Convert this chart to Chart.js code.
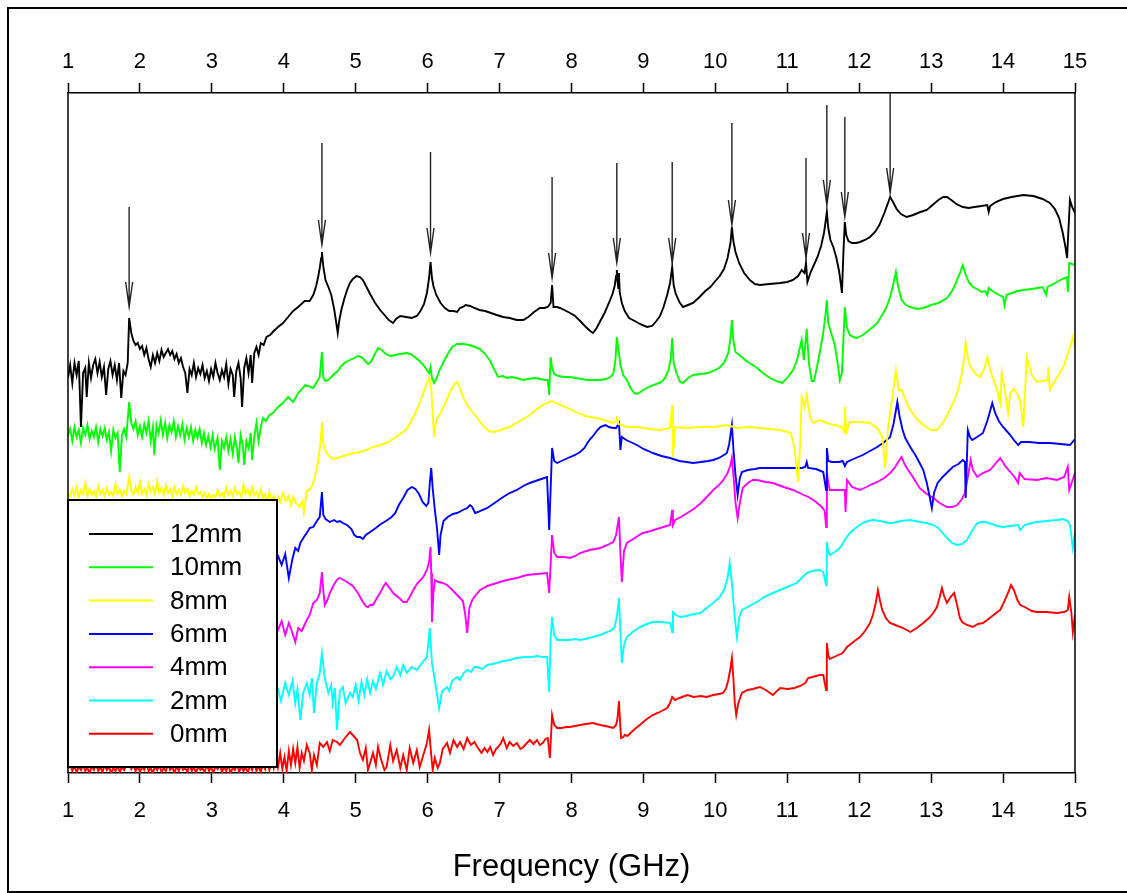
<!DOCTYPE html>
<html>
<head>
<meta charset="utf-8">
<script src="https://cdn.jsdelivr.net/npm/chart.js@4.4.0/dist/chart.umd.min.js"></script>
<style>
  html, body { margin: 0; padding: 0; background: #fff; }
</style>
</head>
<body>
<canvas id="specChart" width="1127" height="893"></canvas>
<script>
// --- данные: частота (GHz) и сигнал (отн. ед., кривые смещены по вертикали) ---
const freqTicks = [1, 2, 3, 4, 5, 6, 7, 8, 9, 10, 11, 12, 13, 14, 15];
const seriesLabels = ['12mm', '10mm', '8mm', '6mm', '4mm', '2mm', '0mm'];
const seriesColors = ['#000000', '#00ff00', '#ffff00', '#0000ff', '#ff00ff', '#00ffff', '#ff0000'];

const s12 = [[1.00,395],[1.03,408],[1.06,390],[1.09,410],[1.12,398],[1.15,412],[1.18,346],[1.21,400],[1.24,405],[1.26,376],[1.29,410],[1.32,395],[1.35,408],[1.38,414],[1.41,400],[1.44,411],[1.47,396],[1.50,406],[1.53,378],[1.56,404],[1.59,412],[1.62,398],[1.65,408],[1.68,393],[1.71,410],[1.74,375],[1.77,402],[1.80,398],[1.83,410],[1.85,455],[1.88,440],[1.91,432],[1.94,428],[1.97,430],[2.00,424],[2.03,427],[2.06,418],[2.09,425],[2.12,414],[2.15,406],[2.18,418],[2.21,410],[2.24,420],[2.27,412],[2.30,423],[2.33,416],[2.36,420],[2.39,424],[2.42,418],[2.45,422],[2.48,414],[2.51,419],[2.54,410],[2.57,415],[2.60,406],[2.63,400],[2.66,380],[2.69,404],[2.72,398],[2.75,410],[2.78,396],[2.81,405],[2.84,399],[2.87,408],[2.90,395],[2.93,402],[2.96,392],[2.99,404],[3.02,396],[3.05,410],[3.08,400],[3.11,393],[3.14,403],[3.17,396],[3.20,409],[3.23,389],[3.26,404],[3.29,398],[3.31,376],[3.34,402],[3.37,410],[3.40,395],[3.42,366],[3.45,405],[3.48,415],[3.51,400],[3.54,418],[3.56,390],[3.59,420],[3.62,426],[3.65,418],[3.68,430],[3.72,428],[3.76,436],[3.81,438],[3.86,442],[3.92,446],[3.99,450],[4.06,456],[4.13,462],[4.20,466],[4.29,472],[4.36,472],[4.41,478],[4.45,487],[4.48,497],[4.50,505],[4.52,515],[4.53,521],[4.55,506],[4.58,493],[4.62,486],[4.66,478],[4.70,464],[4.73,450],[4.75,440],[4.77,452],[4.80,463],[4.84,474],[4.88,483],[4.92,490],[4.96,494],[5.01,497],[5.06,496],[5.10,493],[5.15,486],[5.20,479],[5.27,470],[5.34,463],[5.40,458],[5.46,453],[5.52,450],[5.56,454],[5.62,457],[5.70,456],[5.78,455],[5.85,457],[5.90,462],[5.95,469],[5.99,480],[6.02,495],[6.04,511],[6.06,495],[6.08,487],[6.12,478],[6.18,470],[6.24,465],[6.30,462],[6.36,462],[6.41,461],[6.45,465],[6.49,466],[6.53,468],[6.59,467],[6.65,465],[6.72,463],[6.80,462],[6.88,460],[6.96,458],[7.05,456],[7.14,455],[7.24,453],[7.33,453],[7.40,456],[7.48,461],[7.56,465],[7.62,465],[7.67,466],[7.71,470],[7.73,488],[7.75,466],[7.80,466],[7.84,465],[7.90,463],[7.98,460],[8.05,457],[8.12,452],[8.20,446],[8.26,442],[8.30,440],[8.35,445],[8.40,452],[8.46,460],[8.52,470],[8.57,479],[8.60,487],[8.62,497],[8.63,503],[8.64,492],[8.65,485],[8.66,500],[8.67,481],[8.70,470],[8.74,462],[8.80,455],[8.88,452],[8.95,449],[9.05,446],[9.12,447],[9.18,452],[9.23,457],[9.28,466],[9.33,478],[9.37,490],[9.40,506],[9.42,488],[9.45,479],[9.50,471],[9.55,466],[9.62,468],[9.69,470],[9.78,476],[9.86,482],[9.93,486],[10.00,492],[10.06,497],[10.12,504],[10.17,515],[10.21,530],[10.23,546],[10.25,532],[10.28,521],[10.33,510],[10.40,500],[10.48,493],[10.55,489],[10.62,488],[10.75,489],[10.90,490],[11.00,491],[11.08,493],[11.15,497],[11.20,503],[11.24,500],[11.26,510],[11.28,491],[11.32,500],[11.37,508],[11.42,516],[11.47,527],[11.51,540],[11.53,550],[11.55,561],[11.57,545],[11.60,533],[11.64,526],[11.68,516],[11.72,502],[11.75,486],[11.76,480],[11.78,520],[11.80,551],[11.82,538],[11.85,532],[11.90,530],[11.96,530],[12.01,531],[12.08,533],[12.15,536],[12.22,541],[12.28,548],[12.35,560],[12.40,570],[12.43,576],[12.47,571],[12.52,564],[12.58,559],[12.66,556],[12.75,558],[12.85,561],[12.94,563],[13.02,568],[13.10,573],[13.17,576],[13.22,576],[13.28,573],[13.35,569],[13.44,566],[13.52,565],[13.60,566],[13.70,567],[13.78,568],[13.80,561],[13.82,567],[13.90,571],[14.00,574],[14.12,576],[14.28,578],[14.42,577],[14.55,574],[14.65,570],[14.72,564],[14.78,555],[14.83,540],[14.87,525],[14.89,515],[14.91,545],[14.93,573],[14.96,566],[15.00,560]];

const s10 = [[1.00,338],[1.03,344],[1.06,332],[1.09,346],[1.12,336],[1.15,343],[1.18,330],[1.21,345],[1.24,338],[1.27,348],[1.30,334],[1.33,342],[1.36,336],[1.39,346],[1.42,331],[1.45,344],[1.48,337],[1.51,345],[1.54,333],[1.57,341],[1.60,322],[1.63,343],[1.66,335],[1.69,340],[1.72,301],[1.75,338],[1.78,344],[1.81,336],[1.85,371],[1.88,350],[1.91,344],[1.94,352],[1.97,338],[2.00,347],[2.03,336],[2.06,349],[2.09,340],[2.12,352],[2.15,332],[2.18,346],[2.20,318],[2.23,348],[2.26,340],[2.29,353],[2.32,338],[2.35,350],[2.38,335],[2.41,348],[2.44,341],[2.47,352],[2.50,336],[2.53,347],[2.56,338],[2.59,349],[2.62,333],[2.65,345],[2.68,336],[2.71,346],[2.74,332],[2.77,343],[2.80,335],[2.83,344],[2.86,330],[2.89,340],[2.92,328],[2.95,337],[2.98,326],[3.01,338],[3.04,324],[3.08,335],[3.11,303],[3.14,332],[3.17,325],[3.20,336],[3.23,322],[3.26,334],[3.29,319],[3.32,336],[3.35,324],[3.37,310],[3.40,338],[3.43,328],[3.45,308],[3.48,332],[3.51,325],[3.54,340],[3.56,313],[3.59,336],[3.62,350],[3.65,332],[3.68,346],[3.71,355],[3.75,352],[3.80,358],[3.85,360],[3.92,366],[3.99,370],[4.06,376],[4.13,371],[4.20,380],[4.30,388],[4.41,385],[4.50,396],[4.53,421],[4.55,395],[4.58,392],[4.62,393],[4.66,396],[4.70,399],[4.75,402],[4.80,407],[4.86,411],[4.92,413],[4.98,415],[5.03,417],[5.08,416],[5.12,413],[5.17,409],[5.21,411],[5.26,418],[5.31,425],[5.36,423],[5.42,419],[5.48,417],[5.55,418],[5.62,419],[5.70,420],[5.76,419],[5.82,416],[5.89,412],[5.94,408],[5.99,403],[6.02,400],[6.04,406],[6.06,395],[6.09,390],[6.12,394],[6.16,402],[6.22,411],[6.28,419],[6.34,426],[6.41,429],[6.50,429],[6.58,428],[6.66,426],[6.73,424],[6.80,419],[6.87,412],[6.93,403],[6.98,396],[7.05,397],[7.10,395],[7.17,396],[7.24,395],[7.32,393],[7.40,394],[7.48,395],[7.56,394],[7.64,393],[7.67,393],[7.69,378],[7.71,416],[7.73,405],[7.76,399],[7.82,397],[7.90,396],[7.98,396],[8.06,395],[8.14,394],[8.22,393],[8.30,393],[8.40,393],[8.48,394],[8.54,396],[8.58,399],[8.61,412],[8.63,436],[8.65,425],[8.68,408],[8.72,398],[8.77,393],[8.82,385],[8.87,380],[8.91,379],[8.96,381],[9.02,384],[9.10,387],[9.18,389],[9.25,391],[9.30,395],[9.35,403],[9.38,415],[9.40,435],[9.42,410],[9.46,400],[9.51,391],[9.55,390],[9.62,395],[9.69,398],[9.80,399],[9.90,400],[9.97,402],[10.05,405],[10.12,410],[10.18,420],[10.21,435],[10.23,453],[10.25,432],[10.28,421],[10.35,417],[10.45,411],[10.52,408],[10.58,405],[10.66,400],[10.76,395],[10.85,392],[10.93,390],[11.00,395],[11.08,403],[11.14,414],[11.20,433],[11.23,413],[11.27,444],[11.30,410],[11.34,392],[11.37,392],[11.41,405],[11.45,420],[11.50,440],[11.53,458],[11.55,473],[11.57,450],[11.61,440],[11.66,428],[11.70,410],[11.73,393],[11.76,400],[11.80,466],[11.83,445],[11.87,438],[11.92,436],[11.97,435],[12.05,438],[12.12,442],[12.19,446],[12.25,450],[12.32,458],[12.38,466],[12.43,476],[12.47,488],[12.51,501],[12.54,487],[12.59,473],[12.65,468],[12.71,466],[12.80,464],[12.89,465],[13.00,468],[13.10,470],[13.22,475],[13.30,483],[13.36,493],[13.40,500],[13.44,508],[13.48,498],[13.53,490],[13.58,486],[13.64,484],[13.70,481],[13.75,482],[13.78,478],[13.80,485],[13.85,482],[13.92,479],[14.00,476],[14.02,468],[14.05,478],[14.12,480],[14.20,482],[14.28,483],[14.40,484],[14.55,486],[14.60,478],[14.62,486],[14.70,489],[14.75,491],[14.82,494],[14.89,496],[14.90,481],[14.92,510],[15.00,508]];

const s8 = [[1.00,280],[1.03,277],[1.06,284],[1.09,278],[1.12,286],[1.15,276],[1.18,283],[1.21,279],[1.24,290],[1.27,277],[1.30,284],[1.33,278],[1.36,282],[1.39,276],[1.42,287],[1.45,279],[1.48,283],[1.51,277],[1.54,285],[1.57,278],[1.60,281],[1.63,277],[1.66,289],[1.69,279],[1.72,284],[1.75,277],[1.78,282],[1.81,279],[1.85,296],[1.88,282],[1.91,278],[1.94,286],[1.97,280],[2.00,291],[2.03,279],[2.06,284],[2.09,278],[2.12,289],[2.15,281],[2.18,286],[2.21,279],[2.24,292],[2.27,280],[2.30,285],[2.33,278],[2.36,288],[2.39,280],[2.42,284],[2.45,277],[2.48,286],[2.51,279],[2.54,283],[2.57,278],[2.60,287],[2.63,280],[2.66,284],[2.69,277],[2.72,282],[2.75,278],[2.78,286],[2.81,279],[2.84,281],[2.87,276],[2.90,280],[2.93,275],[2.96,279],[2.99,274],[3.02,278],[3.05,276],[3.08,283],[3.11,277],[3.14,280],[3.17,276],[3.20,286],[3.23,278],[3.26,282],[3.29,277],[3.32,285],[3.35,279],[3.38,281],[3.41,276],[3.44,288],[3.47,279],[3.50,283],[3.53,277],[3.56,286],[3.59,278],[3.62,281],[3.65,276],[3.68,284],[3.71,274],[3.74,279],[3.77,272],[3.80,281],[3.83,270],[3.86,277],[3.89,268],[3.92,276],[3.95,271],[3.99,280],[4.03,272],[4.07,277],[4.10,268],[4.13,276],[4.17,270],[4.22,266],[4.26,272],[4.28,261],[4.32,282],[4.36,283],[4.41,290],[4.45,302],[4.48,313],[4.51,330],[4.53,351],[4.55,330],[4.58,322],[4.62,318],[4.68,314],[4.75,315],[4.82,317],[4.88,318],[4.97,320],[5.06,321],[5.15,323],[5.24,326],[5.34,328],[5.43,330],[5.52,334],[5.62,339],[5.71,344],[5.77,352],[5.83,360],[5.89,370],[5.94,380],[5.98,388],[6.02,396],[6.05,385],[6.07,360],[6.09,336],[6.11,348],[6.14,356],[6.18,360],[6.22,366],[6.27,374],[6.32,382],[6.37,389],[6.41,391],[6.45,385],[6.49,376],[6.55,368],[6.62,361],[6.68,356],[6.73,351],[6.79,346],[6.85,342],[6.91,341],[6.98,342],[7.05,344],[7.14,346],[7.24,350],[7.33,354],[7.42,358],[7.52,364],[7.60,368],[7.66,370],[7.73,372],[7.78,370],[7.84,368],[7.91,366],[7.98,364],[8.06,361],[8.12,359],[8.19,357],[8.26,356],[8.33,355],[8.40,354],[8.50,352],[8.58,350],[8.62,352],[8.63,357],[8.65,349],[8.70,348],[8.77,346],[8.91,346],[9.09,344],[9.23,343],[9.37,345],[9.40,368],[9.41,316],[9.44,346],[9.58,345],[9.79,346],[9.97,346],[10.16,348],[10.30,345],[10.48,346],[10.62,345],[10.90,343],[11.05,340],[11.10,325],[11.15,291],[11.18,330],[11.20,376],[11.24,366],[11.27,378],[11.32,355],[11.36,350],[11.45,353],[11.55,350],[11.76,346],[11.79,341],[11.80,366],[11.82,341],[11.87,351],[12.01,351],[12.15,350],[12.25,345],[12.32,336],[12.36,305],[12.40,345],[12.46,375],[12.51,403],[12.55,383],[12.59,383],[12.65,372],[12.71,363],[12.80,354],[12.89,348],[13.00,343],[13.08,343],[13.17,351],[13.26,363],[13.34,376],[13.40,390],[13.45,410],[13.48,430],[13.52,412],[13.55,406],[13.62,399],[13.68,396],[13.74,404],[13.78,416],[13.82,404],[13.85,396],[13.91,385],[13.96,370],[13.98,400],[14.02,385],[14.07,360],[14.10,380],[14.15,384],[14.19,380],[14.24,372],[14.28,346],[14.33,416],[14.40,398],[14.47,391],[14.55,392],[14.62,393],[14.63,406],[14.65,383],[14.72,392],[14.79,400],[14.85,408],[14.90,420],[14.94,428],[14.97,436],[15.00,425]];

const s6 = [[1.00,215],[1.10,222],[1.20,212],[1.30,220],[1.40,210],[1.50,224],[1.60,214],[1.70,221],[1.80,211],[1.85,232],[1.90,218],[2.00,213],[2.10,222],[2.20,212],[2.30,219],[2.40,210],[2.50,220],[2.60,213],[2.70,218],[2.80,209],[2.90,217],[3.00,211],[3.10,219],[3.20,208],[3.30,216],[3.40,210],[3.50,218],[3.60,209],[3.70,214],[3.78,206],[3.85,214],[3.92,217],[3.97,208],[4.02,219],[4.07,195],[4.12,214],[4.16,225],[4.20,222],[4.23,230],[4.28,236],[4.32,240],[4.36,245],[4.41,246],[4.46,252],[4.50,256],[4.53,281],[4.55,258],[4.58,254],[4.64,251],[4.70,253],[4.74,251],[4.78,252],[4.82,250],[4.88,248],[4.94,244],[4.98,238],[5.02,236],[5.06,236],[5.10,234],[5.14,238],[5.20,241],[5.28,245],[5.35,249],[5.42,252],[5.50,256],[5.55,260],[5.60,268],[5.66,275],[5.72,283],[5.78,286],[5.83,284],[5.88,279],[5.93,271],[5.98,267],[6.01,270],[6.03,290],[6.05,305],[6.07,285],[6.10,263],[6.13,245],[6.16,218],[6.18,238],[6.22,252],[6.28,256],[6.35,259],[6.41,260],[6.49,263],[6.55,265],[6.59,268],[6.62,266],[6.66,260],[6.70,261],[6.76,263],[6.83,265],[6.95,271],[7.05,276],[7.14,280],[7.24,283],[7.33,287],[7.42,290],[7.50,292],[7.58,294],[7.66,296],[7.69,243],[7.73,325],[7.76,312],[7.80,310],[7.86,312],[7.92,314],[7.98,316],[8.05,318],[8.12,321],[8.18,325],[8.22,330],[8.26,334],[8.30,337],[8.35,342],[8.40,346],[8.47,348],[8.52,346],[8.58,345],[8.62,345],[8.66,350],[8.68,323],[8.70,336],[8.76,333],[8.85,330],[8.91,328],[9.00,324],[9.07,322],[9.13,320],[9.25,317],[9.37,315],[9.50,312],[9.60,311],[9.69,310],[9.80,311],[9.90,312],[9.97,313],[10.05,315],[10.12,318],[10.16,320],[10.19,328],[10.21,338],[10.23,348],[10.25,325],[10.28,298],[10.31,278],[10.34,295],[10.37,301],[10.45,303],[10.55,304],[10.62,305],[10.80,305],[10.95,305],[11.08,305],[11.20,305],[11.25,306],[11.27,311],[11.29,305],[11.40,304],[11.50,301],[11.54,283],[11.55,325],[11.57,312],[11.62,311],[11.72,311],[11.77,312],[11.80,307],[11.83,311],[11.92,314],[12.05,318],[12.15,322],[12.25,326],[12.35,331],[12.43,336],[12.48,350],[12.53,371],[12.56,357],[12.60,344],[12.64,335],[12.71,326],[12.78,318],[12.84,310],[12.89,303],[12.94,290],[12.98,276],[13.01,265],[13.04,280],[13.09,290],[13.16,296],[13.23,301],[13.30,306],[13.38,309],[13.44,313],[13.47,311],[13.48,275],[13.51,343],[13.54,336],[13.57,333],[13.64,336],[13.72,340],[13.78,352],[13.82,362],[13.85,370],[13.89,360],[13.94,352],[14.00,346],[14.05,342],[14.10,338],[14.15,333],[14.21,328],[14.25,331],[14.37,331],[14.50,330],[14.65,330],[14.80,329],[14.93,328],[15.00,334]];

const s4 = [[1.00,143],[1.10,150],[1.20,140],[1.30,148],[1.40,138],[1.50,151],[1.60,141],[1.70,149],[1.80,139],[1.85,158],[1.90,145],[2.00,140],[2.10,150],[2.20,139],[2.30,148],[2.40,137],[2.50,149],[2.60,140],[2.70,147],[2.80,138],[2.90,146],[3.00,139],[3.10,148],[3.20,137],[3.30,146],[3.40,140],[3.50,149],[3.60,138],[3.70,145],[3.78,137],[3.85,149],[3.92,143],[3.97,152],[4.02,138],[4.07,150],[4.12,140],[4.16,131],[4.20,145],[4.25,142],[4.32,153],[4.36,158],[4.41,170],[4.46,173],[4.50,180],[4.53,201],[4.55,182],[4.57,168],[4.60,172],[4.64,180],[4.68,186],[4.71,190],[4.75,194],[4.78,195],[4.83,193],[4.88,191],[4.92,189],[4.96,187],[5.00,183],[5.03,180],[5.07,175],[5.10,171],[5.14,167],[5.17,166],[5.20,168],[5.24,168],[5.28,173],[5.31,177],[5.34,180],[5.38,186],[5.42,190],[5.46,186],[5.52,180],[5.57,177],[5.62,174],[5.66,171],[5.71,171],[5.75,176],[5.80,183],[5.86,190],[5.94,196],[5.99,203],[6.02,211],[6.04,226],[6.05,200],[6.06,151],[6.08,180],[6.10,193],[6.15,191],[6.21,190],[6.27,188],[6.33,184],[6.41,178],[6.45,175],[6.49,172],[6.52,160],[6.55,140],[6.58,165],[6.62,173],[6.67,178],[6.73,183],[6.83,187],[6.96,190],[7.10,193],[7.24,195],[7.38,198],[7.52,199],[7.66,200],[7.69,180],[7.73,238],[7.76,220],[7.80,216],[7.90,216],[7.98,215],[8.05,217],[8.12,220],[8.25,223],[8.40,225],[8.50,228],[8.58,231],[8.62,238],[8.66,256],[8.68,220],[8.70,191],[8.73,222],[8.77,230],[8.88,235],[8.99,240],[9.10,242],[9.23,245],[9.37,248],[9.40,263],[9.41,248],[9.44,253],[9.52,256],[9.61,260],[9.70,264],[9.80,270],[9.88,276],[9.97,283],[10.05,288],[10.11,293],[10.17,300],[10.21,308],[10.23,315],[10.26,290],[10.28,270],[10.31,255],[10.34,270],[10.38,285],[10.45,290],[10.52,293],[10.58,293],[10.70,291],[10.80,290],[10.95,286],[11.08,283],[11.20,279],[11.32,275],[11.40,271],[11.48,266],[11.52,262],[11.54,246],[11.55,301],[11.57,290],[11.59,283],[11.68,283],[11.77,283],[11.80,283],[11.81,261],[11.83,293],[11.90,286],[12.01,283],[12.10,286],[12.18,289],[12.25,291],[12.35,295],[12.43,300],[12.50,306],[12.55,312],[12.59,316],[12.63,309],[12.67,304],[12.71,300],[12.78,292],[12.84,285],[12.92,280],[13.03,275],[13.12,270],[13.22,266],[13.30,266],[13.36,268],[13.42,273],[13.47,280],[13.52,300],[13.55,313],[13.58,303],[13.64,296],[13.72,300],[13.82,303],[13.90,310],[13.96,315],[14.03,307],[14.10,301],[14.16,296],[14.21,290],[14.23,300],[14.30,294],[14.47,293],[14.60,295],[14.75,293],[14.85,296],[14.90,306],[14.92,283],[15.00,300]];

const s2 = [[1.00,84],[1.10,92],[1.20,78],[1.30,90],[1.40,80],[1.50,93],[1.60,79],[1.70,88],[1.80,81],[1.85,100],[1.90,86],[2.00,78],[2.10,92],[2.20,80],[2.30,89],[2.40,77],[2.50,91],[2.60,82],[2.70,88],[2.80,76],[2.90,90],[3.00,80],[3.10,87],[3.20,75],[3.30,89],[3.40,79],[3.50,86],[3.60,76],[3.70,88],[3.78,80],[3.85,92],[3.92,84],[3.96,72],[4.02,90],[4.07,78],[4.12,92],[4.16,70],[4.19,84],[4.23,53],[4.27,80],[4.32,90],[4.36,78],[4.39,95],[4.42,60],[4.46,90],[4.50,100],[4.53,120],[4.57,95],[4.62,80],[4.66,88],[4.68,70],[4.71,85],[4.74,43],[4.78,82],[4.82,86],[4.86,70],[4.92,80],[4.96,76],[5.00,88],[5.04,72],[5.08,91],[5.12,78],[5.16,94],[5.20,80],[5.24,92],[5.28,84],[5.34,100],[5.38,88],[5.43,102],[5.48,94],[5.52,96],[5.57,106],[5.62,98],[5.66,108],[5.71,100],[5.78,106],[5.85,103],[5.92,110],[5.99,116],[6.03,145],[6.06,110],[6.10,93],[6.16,65],[6.20,82],[6.24,84],[6.27,86],[6.30,82],[6.34,92],[6.41,96],[6.45,93],[6.50,100],[6.55,103],[6.60,101],[6.65,106],[6.69,106],[6.76,104],[6.83,108],[6.90,109],[6.96,110],[7.05,112],[7.14,113],[7.24,115],[7.35,116],[7.45,116],[7.52,117],[7.60,116],[7.66,116],[7.69,81],[7.71,135],[7.73,156],[7.76,138],[7.80,133],[7.90,133],[7.98,133],[8.05,134],[8.12,133],[8.25,135],[8.40,138],[8.50,141],[8.56,143],[8.60,146],[8.63,156],[8.66,175],[8.68,140],[8.70,110],[8.73,128],[8.77,136],[8.85,141],[8.95,146],[9.05,149],[9.13,151],[9.25,151],[9.37,150],[9.40,141],[9.41,161],[9.45,158],[9.51,156],[9.60,157],[9.70,159],[9.79,160],[9.88,165],[9.97,170],[10.06,176],[10.12,183],[10.17,195],[10.20,210],[10.23,190],[10.27,155],[10.30,136],[10.33,155],[10.37,163],[10.45,166],[10.55,170],[10.62,173],[10.70,177],[10.80,180],[10.90,183],[11.00,186],[11.13,190],[11.20,195],[11.27,200],[11.35,202],[11.45,203],[11.50,201],[11.54,188],[11.55,231],[11.57,222],[11.59,218],[11.66,221],[11.73,225],[11.80,233],[11.87,240],[11.95,245],[12.05,250],[12.12,252],[12.19,253],[12.30,252],[12.40,250],[12.47,250],[12.58,252],[12.71,253],[12.85,251],[12.94,250],[13.03,248],[13.10,245],[13.16,240],[13.22,235],[13.29,230],[13.36,228],[13.43,229],[13.50,233],[13.56,241],[13.64,250],[13.70,251],[13.75,251],[13.85,249],[13.92,247],[14.00,246],[14.10,247],[14.21,248],[14.24,243],[14.30,248],[14.40,250],[14.47,251],[14.60,252],[14.75,253],[14.83,254],[14.90,252],[14.93,248],[14.97,225],[15.00,240]];

const s0 = [[1.00,4],[1.03,9],[1.06,2],[1.09,7],[1.12,1],[1.15,6],[1.18,3],[1.21,8],[1.24,2],[1.27,5],[1.30,0],[1.33,7],[1.36,3],[1.39,9],[1.42,2],[1.45,6],[1.48,1],[1.51,8],[1.54,3],[1.57,6],[1.60,0],[1.63,5],[1.66,2],[1.69,7],[1.72,1],[1.75,6],[1.78,3],[1.81,8],[1.85,12],[1.88,4],[1.91,8],[1.94,2],[1.97,7],[2.00,1],[2.03,6],[2.06,3],[2.09,9],[2.12,2],[2.15,5],[2.18,0],[2.21,7],[2.24,3],[2.27,8],[2.30,1],[2.33,5],[2.36,2],[2.39,9],[2.42,3],[2.45,6],[2.48,0],[2.51,7],[2.54,2],[2.57,8],[2.60,3],[2.63,5],[2.66,1],[2.69,9],[2.72,2],[2.75,6],[2.78,0],[2.81,7],[2.84,3],[2.87,5],[2.90,1],[2.93,8],[2.96,2],[2.99,6],[3.02,0],[3.05,7],[3.08,4],[3.11,9],[3.14,1],[3.17,6],[3.20,2],[3.23,8],[3.26,0],[3.29,5],[3.32,3],[3.35,9],[3.38,1],[3.41,7],[3.44,2],[3.47,6],[3.50,0],[3.53,8],[3.56,3],[3.59,10],[3.62,2],[3.65,7],[3.68,1],[3.71,9],[3.74,4],[3.77,12],[3.80,3],[3.83,14],[3.86,5],[3.89,18],[3.92,6],[3.95,20],[3.98,4],[4.01,16],[4.04,2],[4.07,22],[4.10,8],[4.13,24],[4.16,10],[4.19,26],[4.22,5],[4.25,20],[4.28,12],[4.32,28],[4.36,20],[4.39,3],[4.42,18],[4.46,8],[4.50,30],[4.55,26],[4.60,31],[4.64,22],[4.68,33],[4.74,31],[4.78,28],[4.85,35],[4.92,41],[4.97,37],[5.02,33],[5.06,20],[5.10,13],[5.14,25],[5.17,3],[5.20,10],[5.24,20],[5.28,8],[5.31,26],[5.35,14],[5.40,3],[5.43,6],[5.48,28],[5.52,12],[5.57,23],[5.62,5],[5.66,18],[5.71,3],[5.75,25],[5.80,10],[5.85,23],[5.89,6],[5.94,18],[5.99,30],[6.02,43],[6.05,18],[6.07,3],[6.10,15],[6.14,5],[6.17,10],[6.21,24],[6.27,30],[6.31,20],[6.36,33],[6.41,26],[6.45,31],[6.50,24],[6.55,35],[6.60,28],[6.65,31],[6.69,26],[6.75,20],[6.79,25],[6.83,21],[6.87,26],[6.91,18],[6.95,24],[6.98,26],[7.02,30],[7.05,35],[7.10,25],[7.14,31],[7.19,27],[7.24,30],[7.29,24],[7.33,26],[7.38,30],[7.42,33],[7.47,29],[7.52,33],[7.56,28],[7.60,30],[7.64,34],[7.67,35],[7.70,15],[7.73,58],[7.76,48],[7.80,45],[7.86,45],[7.93,46],[7.98,46],[8.05,47],[8.12,48],[8.20,49],[8.30,50],[8.40,48],[8.47,47],[8.53,46],[8.58,45],[8.62,48],[8.64,55],[8.66,72],[8.68,45],[8.69,35],[8.72,36],[8.74,38],[8.78,37],[8.82,40],[8.88,44],[8.95,48],[9.03,53],[9.13,58],[9.20,60],[9.28,63],[9.33,65],[9.37,70],[9.40,76],[9.44,73],[9.50,75],[9.61,78],[9.70,76],[9.80,77],[9.88,76],[9.97,78],[10.05,79],[10.11,80],[10.15,85],[10.18,93],[10.21,105],[10.23,115],[10.25,95],[10.27,70],[10.29,58],[10.32,70],[10.37,80],[10.45,83],[10.52,84],[10.62,86],[10.70,83],[10.80,78],[10.90,85],[11.00,84],[11.10,85],[11.18,87],[11.25,90],[11.29,95],[11.35,96],[11.45,98],[11.50,98],[11.54,83],[11.55,130],[11.57,118],[11.59,114],[11.68,117],[11.77,120],[11.83,126],[11.90,130],[12.01,136],[12.08,142],[12.15,150],[12.19,158],[12.23,170],[12.26,183],[12.29,172],[12.32,163],[12.37,155],[12.43,150],[12.50,148],[12.61,145],[12.66,143],[12.71,141],[12.80,145],[12.89,150],[12.97,155],[13.03,160],[13.08,166],[13.12,176],[13.15,185],[13.18,177],[13.22,170],[13.27,176],[13.32,180],[13.36,168],[13.40,155],[13.43,151],[13.50,148],[13.58,146],[13.65,149],[13.72,150],[13.78,153],[13.85,157],[13.92,161],[13.96,163],[14.02,172],[14.08,182],[14.11,188],[14.15,183],[14.20,173],[14.24,168],[14.30,166],[14.40,162],[14.47,161],[14.60,161],[14.75,160],[14.85,161],[14.90,163],[14.92,176],[14.95,160],[14.97,141],[15.00,158]];

// стрелки над резонансами кривой 12mm: частота, начало и острие
const arrowFreq = [1.85, 4.53, 6.04, 7.73, 8.63, 9.40, 10.23, 11.26, 11.55, 11.80, 12.43];
const arrowTop  = [566, 630, 621, 596, 610, 611, 650, 615, 668, 656, 680];
const arrowTip  = [466, 528, 520, 495, 510, 510, 548, 515, 568, 556, 580];

const allSeries = [s12, s10, s8, s6, s4, s2, s0];
const FONT = '"Liberation Sans", Arial, sans-serif';

// рамка области графика, стрелки, легенда и внешняя рамка
const decorPlugin = {
    id: 'decor',
    afterDatasetsDraw(chart) {
        const { ctx, chartArea: a } = chart;
        ctx.save();
        ctx.strokeStyle = '#000';
        ctx.lineWidth = 1.5;
        ctx.beginPath();
        ctx.moveTo(a.left, a.top);
        ctx.lineTo(a.left, a.bottom);
        ctx.moveTo(a.right, a.top);
        ctx.lineTo(a.right, a.bottom);
        ctx.stroke();
        ctx.restore();
    },
    afterDraw(chart) {
        const { ctx, scales } = chart;
        const xs = scales.x, ys = scales.y;
        ctx.save();

        // стрелки
        ctx.strokeStyle = '#222';
        ctx.lineWidth = 1.4;
        arrowFreq.forEach((f, i) => {
            const x = xs.getPixelForValue(f);
            const y0 = ys.getPixelForValue(arrowTop[i]);
            const y1 = ys.getPixelForValue(arrowTip[i]);
            ctx.beginPath();
            ctx.moveTo(x, Math.max(y0, chart.chartArea.top));
            ctx.lineTo(x, y1);
            ctx.moveTo(x - 3.5, y1 - 25);
            ctx.lineTo(x, y1);
            ctx.lineTo(x + 3.5, y1 - 25);
            ctx.stroke();
        });

        // легенда
        const lx = 68, ly = 500, lw = 209, lh = 267;
        ctx.fillStyle = '#fff';
        ctx.fillRect(lx, ly, lw, lh);
        ctx.strokeStyle = '#000';
        ctx.lineWidth = 2;
        ctx.strokeRect(lx, ly, lw, lh);
        ctx.font = '26px ' + FONT;
        ctx.textBaseline = 'middle';
        chart.data.datasets.forEach((ds, i) => {
            const y = 534 + i * 33.3;
            ctx.strokeStyle = ds.borderColor;
            ctx.lineWidth = 2;
            ctx.beginPath();
            ctx.moveTo(89, y);
            ctx.lineTo(153, y);
            ctx.stroke();
            ctx.fillStyle = '#000';
            ctx.fillText(ds.label, 170, y + 1);
        });

        // внешняя рамка
        ctx.strokeStyle = '#000';
        ctx.lineWidth = 2;
        ctx.strokeRect(8, 8, 1150, 884);
        ctx.restore();
    }
};

const axisCommon = {
    type: 'linear',
    min: freqTicks[0],
    max: freqTicks[freqTicks.length - 1],
    afterBuildTicks: (scale) => { scale.ticks = freqTicks.map(v => ({ value: v })); },
    grid: {
        drawOnChartArea: false,
        drawTicks: true,
        tickLength: 10,
        tickColor: '#000',
        tickWidth: 1.5
    },
    border: { display: true, color: '#000', width: 1.5 },
};

new Chart(document.getElementById('specChart'), {
    type: 'line',
    data: {
        datasets: allSeries.map((s, i) => ({
            label: seriesLabels[i],
            data: s.map(p => ({ x: p[0], y: p[1] })),
            borderColor: seriesColors[i],
            borderWidth: 1.9,
            pointRadius: 0,
            tension: 0,
            fill: false
        }))
    },
    options: {
        responsive: false,
        animation: false,
        layout: { padding: { left: 68, right: 52, top: 0, bottom: 0 } },
        plugins: {
            legend: { display: false },
            tooltip: { enabled: false }
        },
        scales: {
            x: {
                ...axisCommon,
                position: 'bottom',
                ticks: { color: '#000', padding: 15, font: { family: FONT, size: 22 } },
                title: {
                    display: true,
                    text: 'Frequency (GHz)',
                    color: '#000',
                    font: { family: FONT, size: 31 },
                    padding: { top: 0, bottom: 7 }
                },
                afterFit: (scale) => { scale.height = 120; }
            },
            x2: {
                ...axisCommon,
                position: 'top',
                ticks: { color: '#000', padding: 8, font: { family: FONT, size: 22 } },
                afterFit: (scale) => { scale.height = 93; }
            },
            y: {
                display: false,
                min: 0,
                max: 680
            }
        }
    },
    plugins: [decorPlugin]
});
</script>
</body>
</html>
